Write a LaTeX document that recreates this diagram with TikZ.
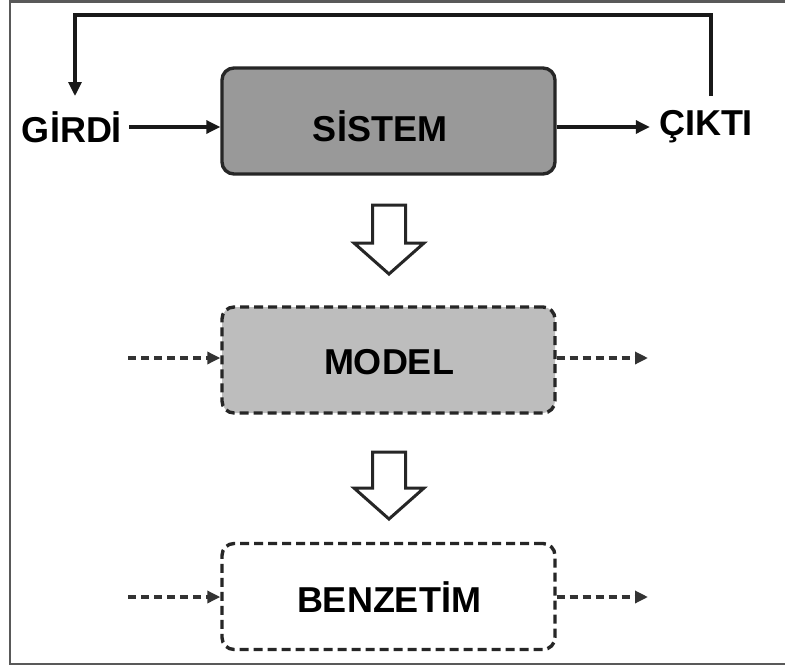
\documentclass[tikz,border=0pt]{standalone}
\usepackage{fontspec}
\setmainfont{Liberation Sans}
\usetikzlibrary{arrows.meta}
\begin{document}
\begin{tikzpicture}[x=1pt,y=-1pt,
  lbl/.style={font=\fontsize{36}{40}\selectfont\bfseries, inner sep=0pt, text=black},
  boxbase/.style={rounded corners=12pt, minimum width=333pt, minimum height=106pt, line width=3.4pt, draw=black!85},
  sysbox/.style={boxbase, fill=black!40},
  modbox/.style={boxbase, fill=black!26, dash pattern=on 9pt off 5pt},
  simbox/.style={boxbase, fill=white, dash pattern=on 9pt off 5pt},
  arr/.style={-{Triangle[length=14pt,width=13pt]}, line width=3.2pt, black!90},
  darr/.style={-{Triangle[length=13pt,width=12pt]}, line width=3.2pt, black!80, dash pattern=on 8pt off 5pt},
  hollow/.style={draw=black!85, line width=3pt, fill=white, line join=miter},
  frame/.style={draw=black!65, line width=2.4pt}
]
\useasboundingbox (0,0) rectangle (785,667);
\fill[white] (0,0) rectangle (785,667);
\draw[frame] (800,1.5) -- (10,1.5) -- (10,664) -- (800,664);

\node[sysbox] (sistem) at (388.5,121) {};
\node[lbl] at (380,126) {SİSTEM};
\node[modbox] (model) at (388.5,360) {};
\node[lbl] at (389,362) {MODEL};
\node[simbox] (benz) at (388.5,596.5) {};
\node[lbl] at (389,597) {BENZETİM};

\node[lbl, inner xsep=7pt] (girdi) at (72,127) {GİRDİ};
\node[lbl, inner xsep=9pt] (cikti) at (706,127) {ÇIKTI};

\draw[arr] (girdi.east) -- (sistem.west |- girdi.east);
\draw[arr] (sistem.east |- cikti.west) -- (cikti.west);

\coordinate (fbout) at (711,96);
\coordinate (fbtop) at (711,15);
\coordinate (fbin) at (75,96);
\draw[arr] (fbout) -- (fbtop) -| (fbin);

\coordinate (ml) at (128,358);
\coordinate (mr) at (648,358);
\draw[darr] (ml) -- (model.west |- ml);
\draw[darr] (model.east |- mr) -- (mr);

\coordinate (bl) at (128,597);
\coordinate (br) at (648,597);
\draw[darr] (bl) -- (benz.west |- bl);
\draw[darr] (benz.east |- br) -- (br);

\draw[hollow] (372.5,205) -- (405.5,205) -- (405.5,243) -- (424,243) -- (389,274) -- (354,243) -- (372.5,243) -- cycle;
\draw[hollow] (372.5,452) -- (405.5,452) -- (405.5,488) -- (424,488) -- (389,519) -- (354,488) -- (372.5,488) -- cycle;
\end{tikzpicture}
\end{document}
